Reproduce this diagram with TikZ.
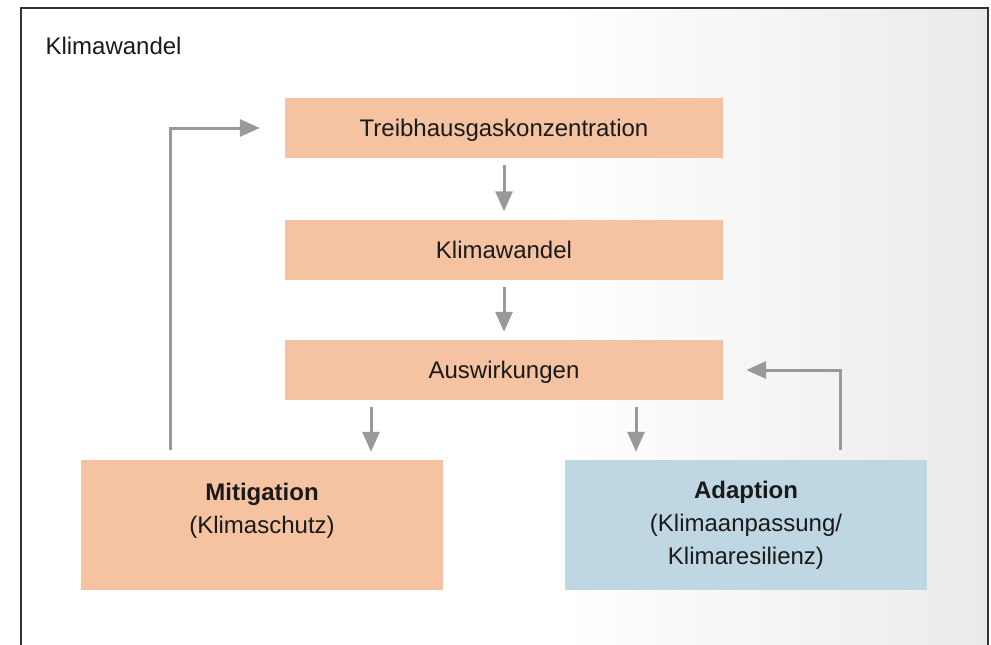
\documentclass[tikz,border=0pt]{standalone}
\usepackage{fontspec}
\setmainfont{Liberation Sans}
\usetikzlibrary{arrows.meta}
\definecolor{P}{RGB}{245, 195, 162}
\definecolor{L}{RGB}{191, 215, 227}
\definecolor{A}{RGB}{153, 153, 153}
\definecolor{T}{RGB}{26, 26, 26}

\tikzset{
  kasten/.style={minimum width=438pt, minimum height=60pt, inner sep=0pt, text height=17pt, text depth=0pt, fill=P, text=T},
  grosskasten/.style={minimum width=362pt, minimum height=130pt, inner sep=0pt, align=center, text=T},
  pfeil/.style={draw=A, line width=3pt, -{Triangle[length=20pt,width=17pt]}},
}

\begin{document}
\begin{tikzpicture}[x=1pt, y=-1pt, font=\fontsize{24}{33}\selectfont]
  \useasboundingbox (0,0) rectangle (991,645);
  \shade[left color=white, right color=black!8] (560,8) rectangle (988,645);
  \draw[black!80, line width=2pt] (20.5,645) -- (20.5,7.5) -- (987.5,7.5) -- (987.5,645);
  \node[anchor=base west, text=T] (titel) at (42,54) {Klimawandel};

  \node[kasten] (thg) at (504,128) {Treibhausgaskonzentration};
  \node[kasten] (kw) at (504,249.5) {Klimawandel};
  \node[kasten] (aus) at (504,370) {Auswirkungen};
  \node[grosskasten, fill=P] (mit) at (262,525) {\textbf{Mitigation}\\(Klimaschutz)\\\mbox{}};
  \node[grosskasten, fill=L] (ada) at (746,525) {\textbf{Adaption}\\(Klimaanpassung/\\Klimaresilienz)};

  \draw[pfeil, shorten <=7pt, shorten >=8pt] (thg) -- (kw);
  \draw[pfeil, shorten <=7pt, shorten >=8pt] (kw) -- (aus);
  \draw[pfeil, shorten <=7pt, shorten >=8pt] ([xshift=-133pt]aus.south) -- ([xshift=109pt]mit.north);
  \draw[pfeil, shorten <=7pt, shorten >=8pt] ([xshift=132pt]aus.south) -- ([xshift=-110pt]ada.north);
  \draw[pfeil, shorten <=10pt, shorten >=25pt] ([xshift=-92pt]mit.north) |- (thg.west);
  \draw[pfeil, shorten <=10pt, shorten >=23pt] ([xshift=94pt]ada.north) |- (aus.east);
\end{tikzpicture}
\end{document}
